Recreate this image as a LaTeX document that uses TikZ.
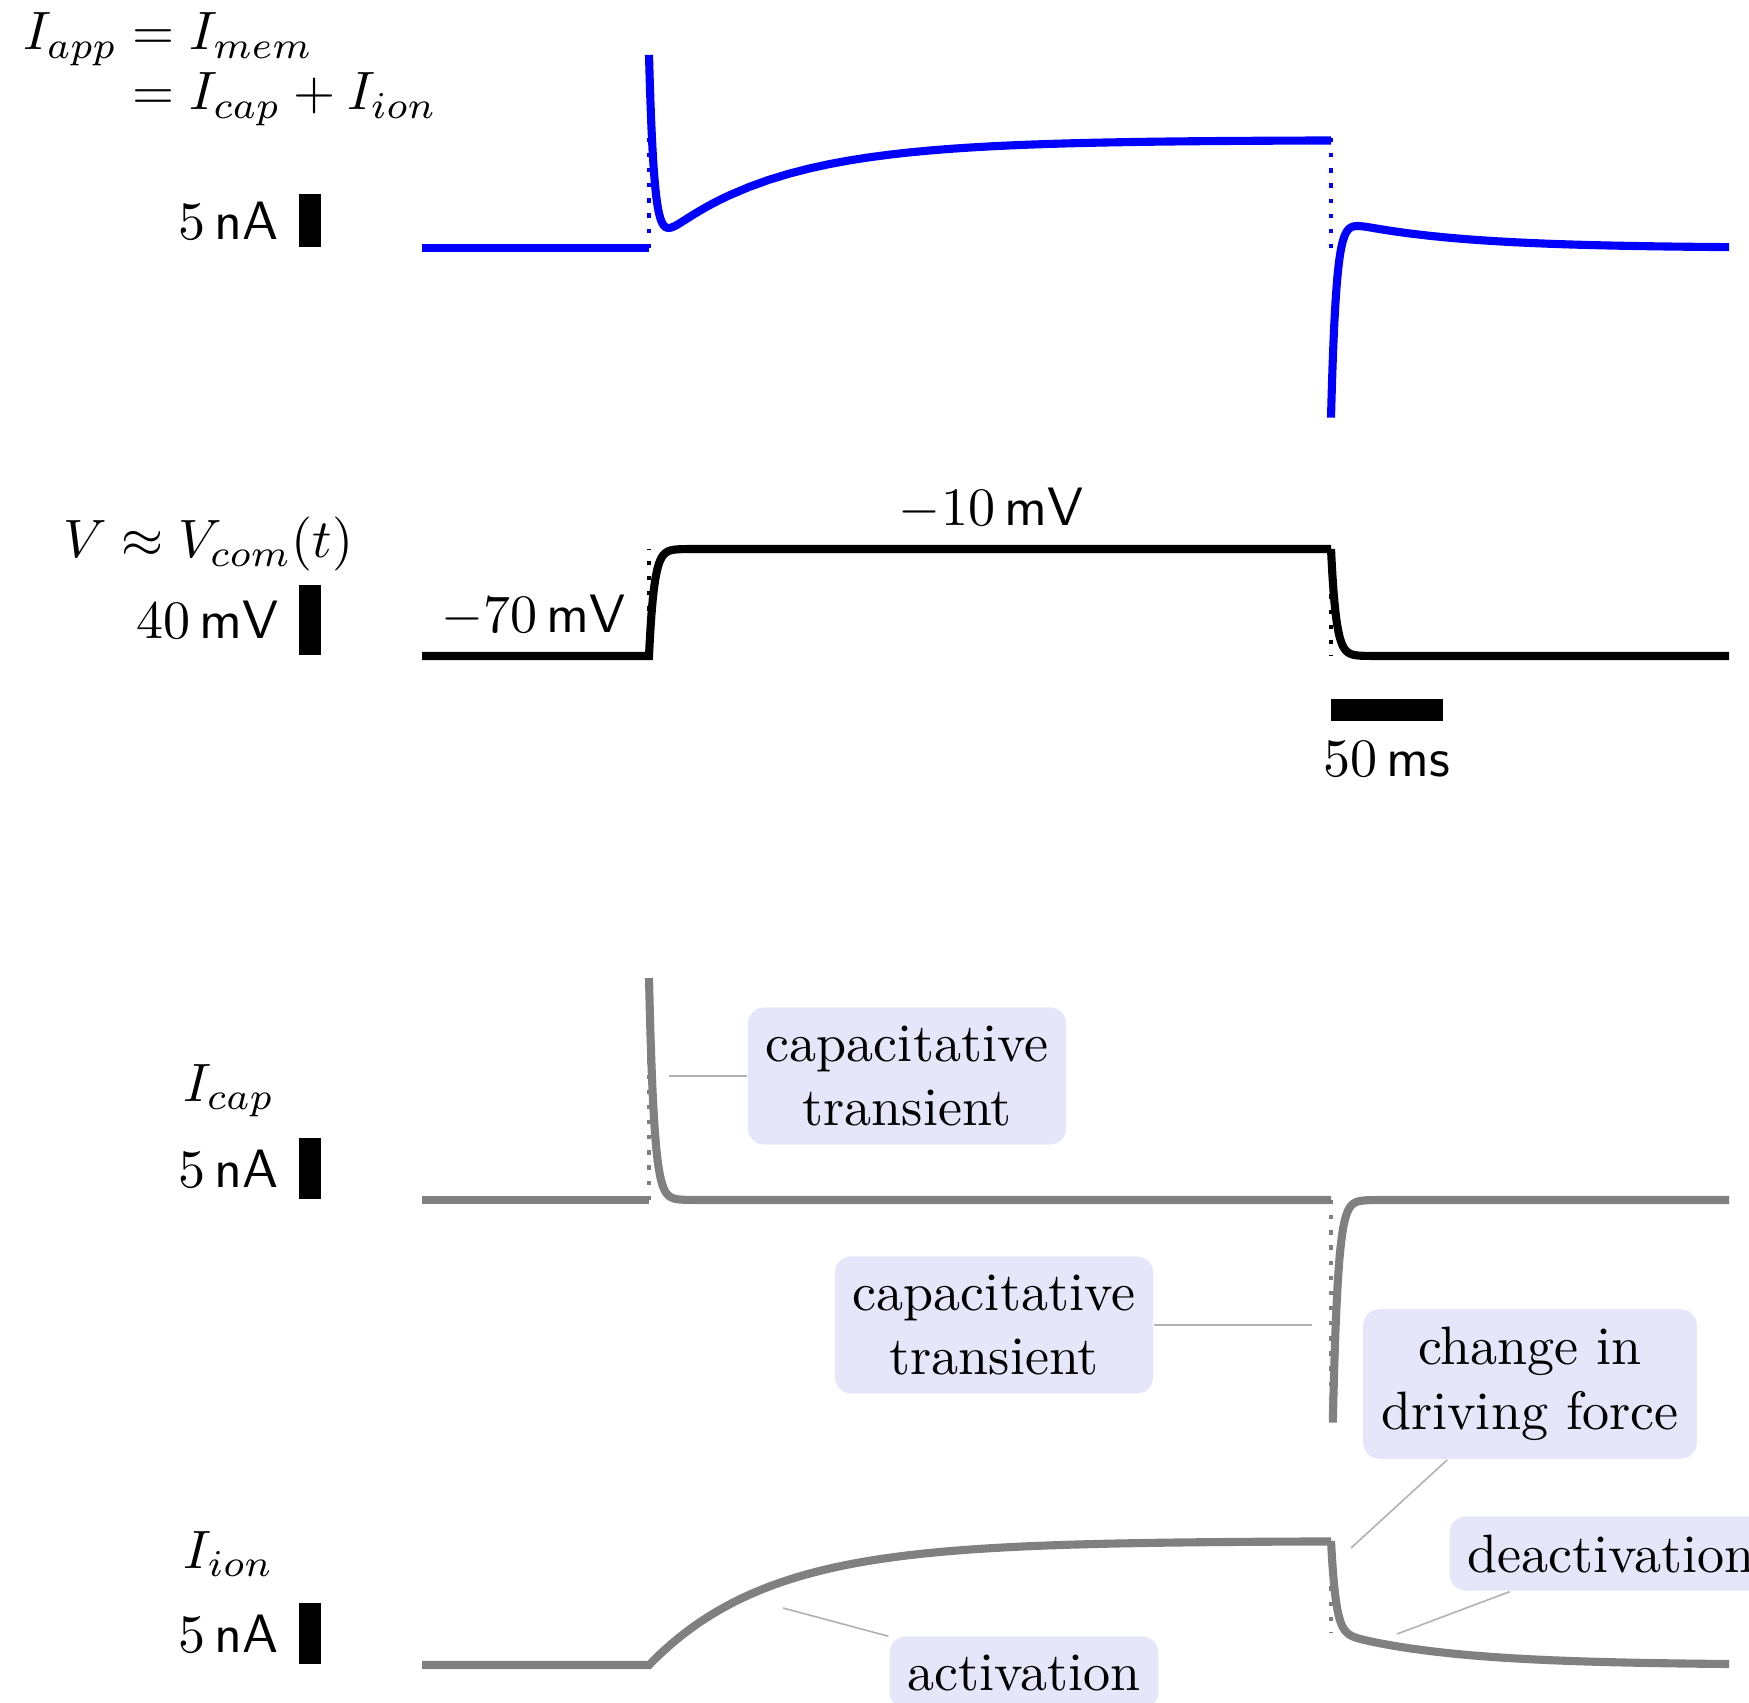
\documentclass[tikz,border=0pt]{standalone}
\usepackage{amsmath,amssymb}
\usepackage{xcolor}
\usepackage{tikz}
\usetikzlibrary{positioning,calc}
\definecolor{notefill}{RGB}{230,230,250}

\begin{document}
\begin{tikzpicture}[x=0.185pt, y=-0.185pt,
    trace/.style={line width=1.5pt},
    ideal/.style={line width=0.8pt, dash pattern=on 0.8pt off 2pt},
    vbar/.style={rectangle, fill=black, inner sep=0pt, minimum width=4.1pt, anchor=south west},
    note/.style={rectangle, fill=notefill, rounded corners=3pt, align=center},
    pointer/.style={gray!60, line width=0.3pt},
    declare function={capk(\s)=exp(-min(\s,50)/5);
        actk(\s)=exp(-\s/120);
        deak(\s)=exp(-\s/113);
        ionon(\s)=124*(1-actk(\s));
        ionoff(\s)=124*(0.27+0.73*capk(\s))*deak(\s);}]

    \useasboundingbox (0,0) rectangle (1749,1703);

    % Applied current
    \node[anchor=base west] (eqapp) at (4,50) {$I_{app} = I_{mem}$};
    \node[anchor=base west] (eqsum) at (4,110) {$\phantom{I_{app}} = I_{cap} + I_{ion}$};
    \node[vbar, minimum height=9.8pt] (appbar) at (298,248) {};
    \node[left=0pt of appbar] (appunit) {$5\,$\textsf{nA}};
    \draw[ideal, blue] (649,248) -- (649,138);
    \draw[ideal, blue] (1331,138) -- (1331,248);
    \draw[trace, blue] (422,248) -- (649,248);
    \draw[trace, blue] plot[samples at={0,0.5,...,30,35,40,...,80,100,120,...,680,682}]
        ({649+\x},{248-0.87*(222*capk(\x)+ionon(\x))});
    \draw[trace, blue] plot[samples at={0,0.5,...,30,35,40,...,80,100,120,...,380,398}]
        ({1331+\x},{248-0.87*(ionoff(\x)-319*capk(\x))});

    % Command voltage
    \node[anchor=base west] (eqvolt) at (44,558) {$V \approx V_{com}(t)$};
    \node[vbar, minimum height=13pt] (voltbar) at (298,656) {};
    \node[left=0pt of voltbar] (voltunit) {$40\,$\textsf{mV}};
    \node[anchor=base east] (vrest) at (645,633) {$-70\,$\textsf{mV}};
    \node[anchor=base] (vstep) at (991,526) {$-10\,$\textsf{mV}};
    \draw[ideal] (649,656) -- (649,549);
    \draw[ideal] (1331,549) -- (1331,656);
    \draw[trace] (422,656)
        --plot[samples at={0,0.5,...,30,35,40,...,80,100,120,...,680,682}] ({649+\x},{656-107*(1-capk(\x))})
        --plot[samples at={0,0.5,...,30,35,40,...,80,100,120,...,380,398}] ({1331+\x},{549+107*(1-capk(\x))});
    \node[rectangle, fill=black, inner sep=0pt, minimum width=20.7pt, minimum height=4.1pt,
        anchor=north west] (timebar) at (1330,698) {};
    \node[below=0pt of timebar] (timeunit) {$50\,$\textsf{ms}};

    % Capacitive current
    \node[vbar, minimum height=11.3pt] (capbar) at (298,1200) {};
    \node[left=0pt of capbar] (capunit) {$5\,$\textsf{nA}};
    \node[above=-1pt of capunit] (caplabel) {$I_{cap}$};
    \draw[ideal, gray] (649,1200) -- (649,978);
    \draw[ideal, gray] (1331,1200) -- (1331,1422);
    \draw[trace, gray] (422,1200) -- (649,1200);
    \draw[trace, gray] plot[samples at={0,0.5,...,30,35,40,...,80,100,120,...,680,682}]
        ({649+\x},{1200-222*capk(\x)});
    \draw[trace, gray] plot[samples at={1.8,2,2.5,...,30,35,40,...,80,100,120,...,380,398}]
        ({1331+\x},{1200+319*capk(\x)});

    % Ionic current
    \node[vbar, minimum height=11.3pt] (ionbar) at (298,1665) {};
    \node[left=0pt of ionbar] (ionunit) {$5\,$\textsf{nA}};
    \node[above=0pt of ionunit] (ionlabel) {$I_{ion}$};
    \draw[ideal, gray] (1331,1541) -- (1331,1632);
    \draw[trace, gray] (422,1665)
        --plot[samples at={0,5,...,680,682}] ({649+\x},{1665-ionon(\x)})
        --plot[samples at={0,0.5,...,30,35,40,...,80,100,120,...,380,398}] ({1331+\x},{1665-ionoff(\x)});

    % Notes
    \node[note] (captop) at (907,1076) {capacitative\\transient};
    \node[note] (capbot) at (994,1325) {capacitative\\transient};
    \node[note] (drive) at (1530,1384) {change in\\driving force};
    \node[note, anchor=base] (deact) at (1611,1572) {deactivation};
    \node[note, anchor=base] (act) at (1024,1690) {activation};
    \coordinate (capontip) at (669,1076);
    \coordinate (capofftip) at (1312,1325);
    \coordinate (drivetip) at (1351,1548);
    \coordinate (deacttip) at (1397,1634);
    \coordinate (acttip) at (783,1608);
    \draw[pointer] (capontip) -- (captop);
    \draw[pointer] (capofftip) -- (capbot);
    \draw[pointer] (drivetip) -- (drive);
    \draw[pointer] (deacttip) -- (deact);
    \draw[pointer] (acttip) -- (act);

\end{tikzpicture}
\end{document}
